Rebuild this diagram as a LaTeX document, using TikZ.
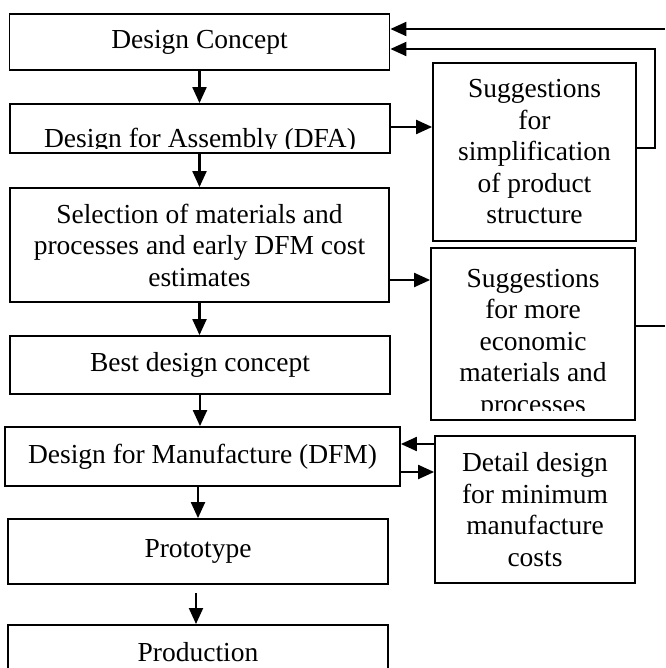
\documentclass[tikz,border=0pt]{standalone}
\usepackage{fontspec}
\setmainfont{Liberation Serif}
\usetikzlibrary{arrows.meta}
\begin{document}
\begin{tikzpicture}[x=1pt,y=-1pt,
  box/.style={draw, line width=1.8pt, inner sep=0pt, align=center},
  txt/.style={inner sep=0pt, align=center, font=\fontsize{27.5}{31.5}\selectfont},
  arr/.style={line width=2.1pt, -{Triangle[length=16pt,width=14pt]}},
  ln/.style={line width=2.1pt}]
\useasboundingbox (0,0) rectangle (665,668);
% left column
\node[box,txt,minimum width=380,minimum height=56] (dc) at (199.5,42) {Design Concept};
\node[box,minimum width=380,minimum height=49] (dfa) at (200,128.5) {};
\begin{scope}
\clip (10,104) rectangle (390,148.5);
\node[txt,anchor=base] (dfat) at (200,148) {Design for Assembly (DFA)};
\end{scope}
\node[box,txt,minimum width=379,minimum height=114] (sel) at (199.5,245) {Selection of materials and\\processes and early DFM cost\\estimates};
\node[box,txt,minimum width=380,minimum height=58] (best) at (200,365) {Best design concept};
\node[box,txt,minimum width=395,minimum height=59] (dfm) at (202.5,456.5) {Design for Manufacture (DFM)};
\node[box,txt,minimum width=380,minimum height=65] (proto) at (198,551.5) {Prototype};
\node[box,minimum width=380,minimum height=90,anchor=north] (prod) at (198,624) {};
\node[txt,anchor=base] (prodt) at (198,661) {Production};
% right column
\node[box,txt,minimum width=203,minimum height=178] (s1) at (534.5,152) {Suggestions\\for\\simplification\\of product\\structure};
\node[box,minimum width=204,minimum height=172] (s2) at (533,334) {};
\begin{scope}
\clip (431,248) rectangle (635,410);
\node[txt] (s2t) at (533,344) {Suggestions\\for more\\economic\\materials and\\processes};
\end{scope}
\node[box,txt,minimum width=200,minimum height=147] (s3) at (535,509.5) {Detail design\\for minimum\\manufacture\\costs};
% vertical arrows
\draw[arr] (dc.south) -- (dc.south |- dfa.north);
\draw[arr] (dfa.south -| sel.north) -- (sel.north);
\draw[arr] (sel.south) -- (sel.south |- best.north);
\draw[arr] (best.south) -- (best.south |- dfm.north);
\draw[arr] (proto.north |- dfm.south) -- (proto.north);
\coordinate (pp) at (196,593);
\draw[arr] (pp) -- (pp |- prod.north);
% horizontal connectors
\draw[arr] (dfa.east |- 0,127) -- (s1.west |- 0,127);
\draw[arr] (s1.east |- 0,148) -- (655,148) -- (655,49) -- (dc.east |- 0,49);
\coordinate (topin) at (665,29);
\draw[arr] (topin) -- (dc.east |- topin);
\draw[arr] (sel.east |- 0,280) -- (s2.west |- 0,280);
\coordinate (s2out) at (665,326);
\draw[ln] (s2.east |- s2out) -- (s2out);
\draw[arr] (s3.west |- 0,444) -- (dfm.east |- 0,444);
\draw[arr] (dfm.east |- 0,472) -- (s3.west |- 0,472);
\end{tikzpicture}
\end{document}
